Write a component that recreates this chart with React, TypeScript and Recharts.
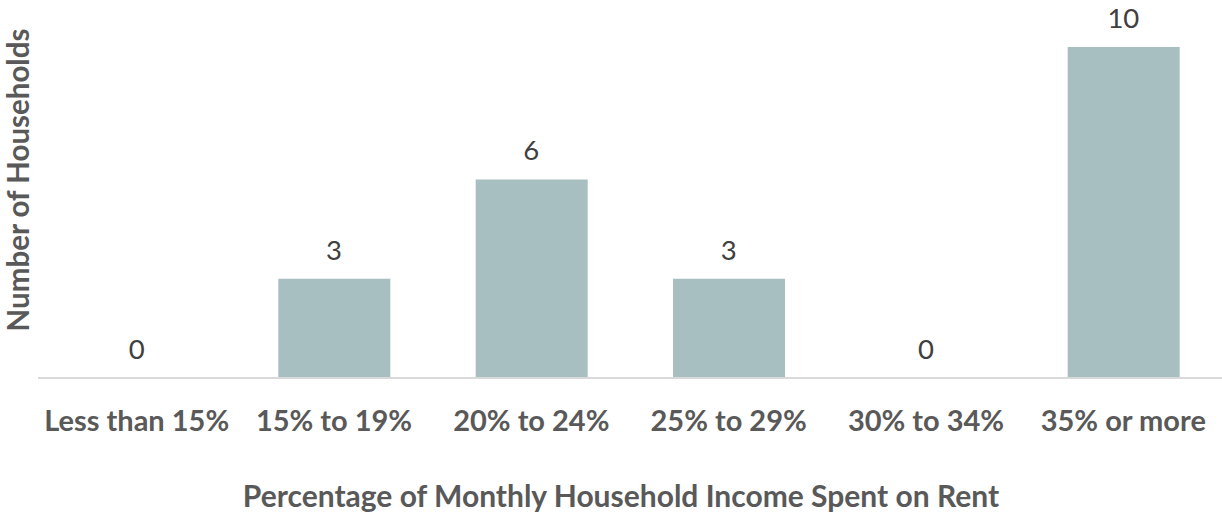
import React from "react";
import { ComposedChart, Bar, Line, XAxis, YAxis, LabelList, Label } from "recharts";

const categories = ["Less than 15%", "15% to 19%", "20% to 24%", "25% to 29%", "30% to 34%", "35% or more"];
const households = [0, 3, 6, 3, 0, 10];
const data = categories.map((c, i) => ({ category: c, value: households[i] }));

const FONT = "Lato, 'Open Sans', sans-serif";

export default function App() {
  return (
    <div style={{ position: "absolute", left: 0, top: 0, background: "#fff" }}>
      <ComposedChart width={1222} height={512} data={data} margin={{ top: 47, right: 0, bottom: 0, left: 0 }}>
        <YAxis
          width={38}
          domain={[0, 10]}
          axisLine={false}
          tickLine={false}
          tick={false}
        >
          <Label
            value="Number of Households"
            content={() => {
              const cy = 180;
              return (
                <text
                  x={17}
                  y={cy}
                  transform={`rotate(-90, 17, ${cy})`}
                  textAnchor="middle"
                  dominantBaseline="central"
                  fontFamily={FONT}
                  fontWeight={700}
                  fontSize={29.5}
                  fill="#595959"
                >
                  Number of Households
                </text>
              );
            }}
          />
        </YAxis>
        <XAxis
          dataKey="category"
          height={134}
          axisLine={{ stroke: "#D9D9D9", strokeWidth: 2 }}
          tickLine={false}
          tick={{ fontFamily: FONT, fontWeight: 700, fontSize: 29, fill: "#595959" }}
          tickMargin={26}
          interval={0}
        >
          <Label
            value="Percentage of Monthly Household Income Spent on Rent"
            content={() => (
              <text
                x={621}
                y={495}
                textAnchor="middle"
                dominantBaseline="central"
                fontFamily={FONT}
                fontWeight={700}
                fontSize={30}
                fill="#595959"
              >
                Percentage of Monthly Household Income Spent on Rent
              </text>
            )}
          />
        </XAxis>
        <Bar dataKey="value" fill="#A7BFC0" barSize={112} isAnimationActive={false} />
        <Line dataKey="value" stroke="none" dot={false} activeDot={false} isAnimationActive={false}>
          <LabelList
            dataKey="value"
            position="top"
            offset={19}
            style={{ fontFamily: FONT, fontSize: 27.5, fill: "#404040" }}
          />
        </Line>
      </ComposedChart>
    </div>
  );
}
